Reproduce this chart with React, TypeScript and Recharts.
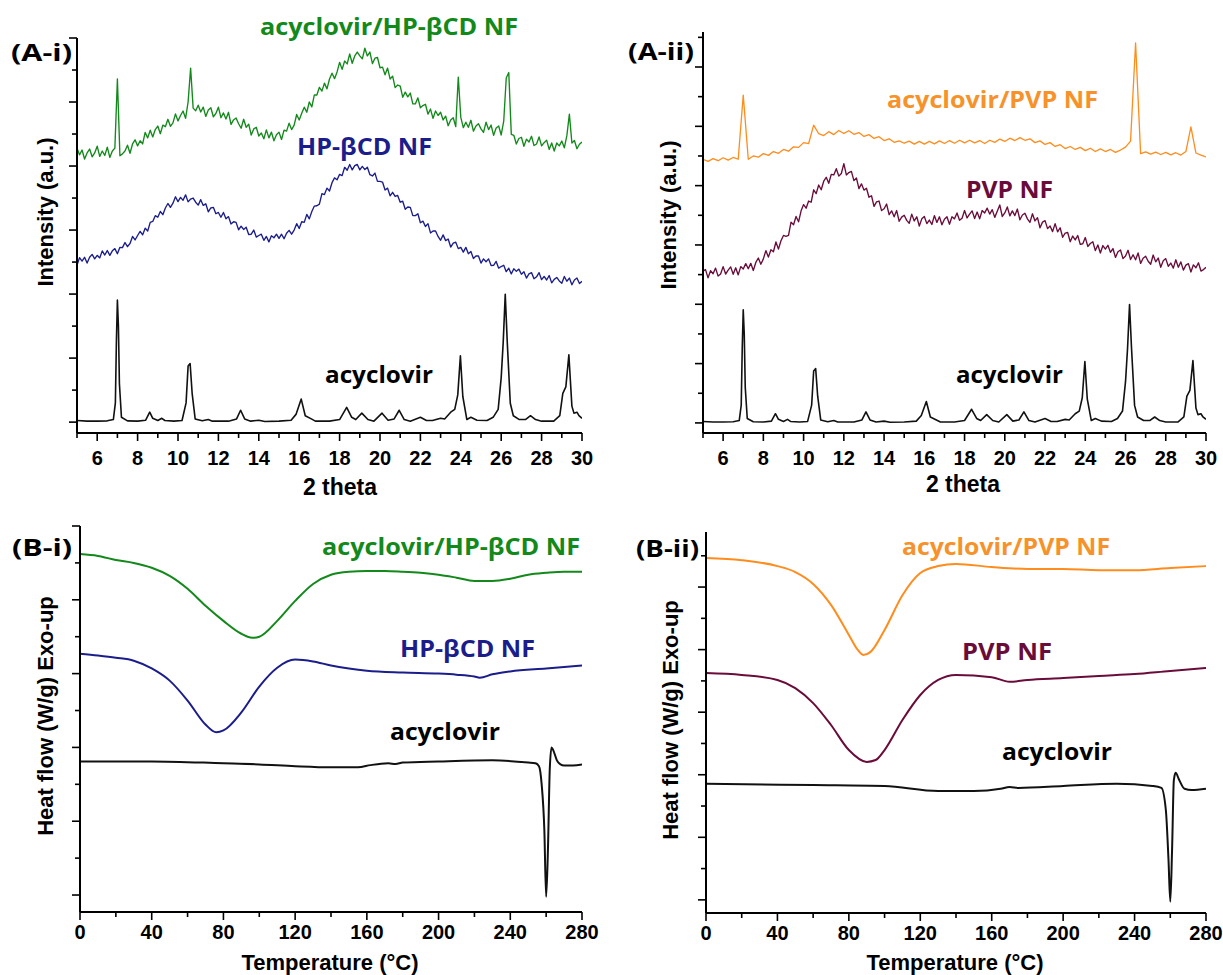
import React from 'react';
import { LineChart, Line, XAxis, YAxis } from 'recharts';

// ---------- XRD sampling grids (2 theta, degrees) ----------
const THETA_FINE: number[] = Array.from({ length: 201 }, (_, i) => 5 + i * 0.125);
const THETA_COARSE: number[] = Array.from({ length: 101 }, (_, i) => 5 + i * 0.25);

// ---------- (A-i) acyclovir/HP-βCD NF XRD, intensity (a.u.) on THETA_FINE ----------
const XRD_ACY_HPBCD_NF: number[] = [
  856, 835, 850, 822, 841, 853, 829, 841,
  862, 830, 847, 833, 859, 827, 847, 856,
  1072, 832, 838, 847, 865, 840, 869, 882,
  863, 879, 869, 905, 888, 912, 891, 914,
  925, 901, 928, 923, 946, 924, 935, 963,
  941, 958, 972, 949, 1000, 1106, 981, 973,
  990, 969, 984, 955, 975, 982, 954, 964,
  984, 951, 966, 947, 968, 930, 944, 950,
  932, 918, 946, 921, 931, 897, 916, 921,
  894, 903, 885, 913, 888, 906, 879, 898,
  906, 883, 912, 909, 934, 914, 928, 961,
  944, 965, 984, 968, 1000, 985, 1022, 1022,
  1046, 1034, 1059, 1041, 1072, 1090, 1073, 1094,
  1124, 1102, 1128, 1119, 1150, 1121, 1144, 1156,
  1144, 1135, 1168, 1144, 1156, 1120, 1137, 1139,
  1107, 1109, 1085, 1106, 1072, 1081, 1045, 1053,
  1050, 1015, 1031, 1016, 1028, 994, 994, 1013,
  982, 989, 993, 962, 978, 949, 972, 958,
  968, 944, 956, 926, 944, 951, 923, 1078,
  952, 920, 937, 921, 943, 909, 925, 932,
  916, 905, 937, 914, 928, 896, 919, 925,
  897, 940, 1075, 1092, 899, 896, 869, 886,
  890, 862, 884, 875, 893, 864, 869, 891,
  863, 873, 881, 852, 872, 847, 872, 863,
  878, 857, 895, 962, 872, 880, 854, 868,
  875,
];

// ---------- (A-i) HP-βCD NF XRD on THETA_FINE ----------
const XRD_HPBCD_NF: number[] = [
  490, 514, 503, 515, 497, 515, 524, 510,
  521, 513, 535, 522, 536, 521, 535, 542,
  526, 546, 545, 561, 548, 558, 580, 569,
  583, 596, 585, 606, 597, 624, 627, 645,
  640, 658, 648, 669, 683, 671, 684, 704,
  689, 702, 693, 710, 688, 697, 700, 687,
  678, 695, 677, 682, 657, 669, 671, 651,
  655, 640, 655, 635, 642, 619, 626, 624,
  601, 612, 602, 609, 586, 587, 600, 578,
  583, 587, 568, 580, 563, 582, 576, 587,
  574, 587, 573, 590, 599, 587, 600, 620,
  605, 626, 624, 649, 635, 658, 675, 676,
  681, 714, 711, 731, 722, 748, 763, 757,
  774, 770, 796, 787, 805, 788, 801, 805,
  788, 799, 789, 796, 773, 769, 778, 752,
  752, 750, 725, 731, 707, 718, 705, 708,
  687, 690, 665, 672, 671, 645, 645, 651,
  623, 628, 611, 620, 591, 597, 597, 580,
  568, 585, 567, 572, 547, 559, 562, 542,
  546, 531, 546, 526, 533, 511, 519, 519,
  497, 510, 501, 510, 489, 490, 502, 481,
  486, 490, 470, 481, 463, 479, 471, 478,
  462, 470, 450, 463, 467, 448, 454, 467,
  445, 455, 444, 458, 435, 446, 452, 441,
  434, 455, 440, 450, 429, 444, 450, 433,
  440,
];

// ---------- (A-ii) PVP NF XRD on THETA_FINE ----------
const XRD_PVP_NF: number[] = [
  512, 517, 489, 513, 503, 522, 495, 502,
  527, 502, 515, 526, 501, 523, 499, 527,
  519, 537, 520, 538, 514, 541, 556, 535,
  553, 581, 559, 584, 577, 610, 586, 614,
  632, 629, 632, 677, 668, 696, 678, 715,
  736, 724, 748, 744, 786, 773, 802, 786,
  815, 828, 808, 838, 836, 857, 832, 841,
  874, 836, 844, 848, 817, 826, 790, 806,
  785, 791, 761, 766, 730, 745, 748, 716,
  722, 738, 702, 715, 695, 716, 680, 694,
  700, 683, 673, 704, 681, 695, 664, 688,
  696, 672, 684, 669, 699, 676, 695, 668,
  687, 695, 670, 695, 688, 708, 683, 690,
  716, 691, 704, 715, 689, 711, 688, 716,
  708, 724, 704, 719, 693, 714, 735, 696,
  708, 728, 698, 715, 699, 721, 685, 701,
  707, 688, 676, 705, 681, 692, 658, 677,
  682, 655, 664, 645, 672, 644, 658, 626,
  640, 642, 611, 630, 617, 632, 602, 604,
  625, 595, 605, 611, 581, 600, 573, 598,
  586, 599, 575, 588, 558, 577, 583, 554,
  563, 582, 551, 567, 550, 573, 538, 555,
  562, 545, 535, 566, 543, 556, 525, 547,
  554, 528, 539, 522, 550, 525, 543, 515,
  532, 537, 509, 533, 523, 540, 512, 517,
  525,
];

// ---------- (A-ii) acyclovir/PVP NF XRD on THETA_COARSE ----------
const XRD_ACY_PVP_NF: number[] = [
  889, 882, 891, 884,
  894, 886, 895, 889,
  1105, 889, 900, 896,
  908, 902, 915, 909,
  922, 916, 931, 929,
  945, 942, 1004, 975,
  969, 982, 972, 986,
  976, 985, 973, 979,
  966, 972, 959, 965,
  952, 958, 946, 951,
  943, 950, 940, 949,
  940, 949, 941, 951,
  942, 952, 943, 953,
  944, 953, 944, 952,
  942, 953, 946, 957,
  949, 960, 952, 962,
  953, 958, 945, 951,
  939, 945, 932, 938,
  925, 932, 922, 929,
  918, 926, 915, 924,
  915, 922, 912, 920,
  930, 950, 1281, 908,
  914, 906, 913, 905,
  912, 904, 911, 903,
  915, 998, 910, 903,
  897,
];

// ---------- acyclovir (crystalline) XRD, shared by both A panels ----------
const ACY_THETA: number[] = [
  5.0, 5.5, 6.0, 6.5, 6.8, 6.9, 6.95, 7.0, 7.05, 7.1, 7.2, 7.5, 8.0, 8.4, 8.6, 8.75,
  9.0, 9.2, 9.35, 9.8, 10.2, 10.4, 10.5, 10.6, 10.7, 10.85, 11.2, 11.5, 11.7, 12.5,
  12.9, 13.1, 13.3, 13.6, 14.0, 14.3, 15.0, 15.6, 15.85, 16.1, 16.3, 16.6, 16.8, 17.5,
  18.0, 18.35, 18.6, 18.8, 19.1, 19.4, 19.7, 20.1, 20.4, 20.7, 20.95, 21.2, 21.5, 22.0,
  22.3, 22.6, 23.0, 23.2, 23.5, 23.7, 23.85, 23.98, 24.1, 24.3, 24.5, 24.8, 25.3, 25.6,
  25.85, 26.0, 26.1, 26.2, 26.3, 26.45, 26.6, 26.9, 27.2, 27.45, 27.7, 28.0, 28.6, 28.9,
  29.05, 29.2, 29.35, 29.5, 29.6, 29.75, 29.85, 30.0,
];
const ACY_XRD: number[] = [
  5, 3, 3, 4, 8, 60, 250, 381, 300, 120, 15, 4, 3, 6, 31, 12,
  5, 12, 5, 3, 5, 60, 175, 183, 90, 10, 4, 8, 3, 3,
  10, 37, 10, 3, 6, 2, 3, 6, 25, 72, 20, 10, 3, 3,
  8, 46, 15, 8, 28, 8, 3, 28, 6, 10, 37, 8, 3, 15,
  5, 5, 12, 10, 31, 40, 85, 207, 80, 8, 15, 6, 5, 15,
  40, 139, 250, 399, 250, 59, 20, 8, 8, 20, 8, 3, 3, 20,
  90, 110, 210, 50, 28, 31, 20, 12,
];

// ---------- DSC (B-i) ----------
const DSC_ACY_HPBCD_T: number[] = [0, 10, 20, 30, 40, 50, 60, 70, 80, 90, 96, 100, 110, 120, 130, 140, 150, 160, 170, 180, 190, 200, 210, 220, 230, 240, 250, 260, 270, 280];
const DSC_ACY_HPBCD: number[] = [924, 919, 908, 900, 887, 865, 830, 784, 743, 708, 697, 700, 743, 797, 843, 868, 876, 878, 878, 876, 873, 868, 860, 851, 851, 857, 868, 873, 876, 876];
const DSC_HPBCD_T: number[] = [0, 10, 20, 30, 40, 50, 60, 70, 76, 80, 90, 100, 110, 120, 130, 140, 150, 160, 180, 200, 210, 220, 223, 230, 240, 260, 280];
const DSC_HPBCD: number[] = [654, 649, 643, 635, 614, 581, 527, 462, 441, 446, 495, 565, 616, 638, 633, 622, 614, 608, 603, 600, 597, 592, 589, 598, 606, 614, 622];
const DSC_ACY_I_T: number[] = [0, 40, 80, 100, 120, 140, 155, 162, 168, 172, 176, 180, 200, 230, 250, 254, 256, 257.5, 259, 260, 261, 262, 263, 264, 266, 268, 270, 275, 280];
const DSC_ACY_I: number[] = [362, 362, 357, 354, 349, 346, 346, 352, 356, 357, 355, 359, 362, 365, 359, 357, 349, 300, 176, -5, 122, 338, 400, 392, 365, 354, 351, 351, 354];

// ---------- DSC (B-ii) ----------
const DSC_ACY_PVP_T: number[] = [0, 20, 40, 50, 60, 70, 80, 85, 88, 92, 100, 110, 120, 130, 140, 160, 180, 200, 220, 240, 260, 280];
const DSC_ACY_PVP: number[] = [1093, 1086, 1067, 1048, 1010, 943, 847, 799, 783, 792, 863, 974, 1045, 1067, 1074, 1064, 1058, 1058, 1054, 1054, 1061, 1067];
const DSC_PVP_T: number[] = [0, 20, 40, 50, 60, 70, 80, 90, 95, 100, 110, 120, 130, 140, 160, 170, 180, 200, 220, 240, 260, 280];
const DSC_PVP: number[] = [725, 719, 703, 677, 629, 559, 479, 441, 447, 479, 575, 655, 703, 719, 712, 697, 703, 709, 716, 722, 732, 741];
const DSC_ACY_II_T: number[] = [0, 60, 100, 130, 150, 165, 170, 175, 200, 230, 250, 255, 257.5, 259, 260, 261, 262, 263, 265, 268, 272, 280];
const DSC_ACY_II: number[] = [371, 367, 364, 348, 348, 355, 361, 358, 364, 371, 364, 358, 288, 128, -6, 160, 383, 406, 383, 355, 351, 355];

// ---------- ticks ----------
const XRD_X_TICKS: number[] = [5, 6, 7, 8, 9, 10, 11, 12, 13, 14, 15, 16, 17, 18, 19, 20, 21, 22, 23, 24, 25, 26, 27, 28, 29, 30];
const XRD_X_LABELS: number[] = [6, 8, 10, 12, 14, 16, 18, 20, 22, 24, 26, 28, 30];
const DSC_X_TICKS: number[] = [0, 20, 40, 60, 80, 100, 120, 140, 160, 180, 200, 220, 240, 260, 280];
const DSC_X_LABELS: number[] = [0, 40, 80, 120, 160, 200, 240, 280];
const Y_TICKS_AI: number[] = [0, 100, 200, 300, 400, 500, 600, 700, 800, 900, 1000, 1100, 1200];
const Y_TICKS_AII: number[] = [0, 100, 200, 300, 400, 500, 600, 700, 800, 900, 1000, 1100, 1200, 1300];
const Y_TICKS_BI: number[] = [0, 100, 200, 300, 400, 500, 600, 700, 800, 900, 1000];
const Y_TICKS_BII: number[] = [0, 100, 200, 300, 400, 500, 600, 700, 800, 900, 1000, 1100];

// ---------- styles ----------
const GREEN = '#12891a';
const NAVY = '#1b1d8a';
const ORANGE = '#ff8c1c';
const MAROON = '#6a0c3a';
const AXIS_FONT = '"Liberation Sans", Arial, sans-serif';
const LABEL_FONT = '"Open Sans", "Noto Sans", sans-serif';

type Pt = { x: number; y: number };
const zip = (xs: number[], ys: number[]): Pt[] => xs.map((x, i) => ({ x, y: ys[i] }));

interface Series { data: Pt[]; color: string; width: number; curve: 'linear' | 'monotone' }
interface PanelProps {
  left: number; right: number; top: number; bottom: number;
  xDomain: [number, number]; yDomain: [number, number];
  xTicks: number[]; xLabels: number[]; xMajorStep: number;
  yTicks: number[];
  labelOffset: number;
  series: Series[];
}

function Panel(p: PanelProps) {
  const padL = 16, padR = 34, padT = 6, padB = 46;
  const W = p.right - p.left + padL + padR;
  const H = p.bottom - p.top + padT + padB;
  const xTick = (t: any) => {
    const v = t.payload.value;
    const major = Math.abs(v / p.xMajorStep - Math.round(v / p.xMajorStep)) < 1e-6;
    const lab = p.xLabels.includes(v);
    return (
      <g>
        <line x1={t.x} x2={t.x} y1={t.y} y2={t.y + (major ? 8 : 5)} stroke="#000" strokeWidth={1.6} />
        {lab && (
          <text x={t.x} y={t.y + p.labelOffset + 7} textAnchor="middle" fontFamily={AXIS_FONT} fontWeight="bold" fontSize={20} fill="#000">
            {v}
          </text>
        )}
      </g>
    );
  };
  const yTick = (t: any) => {
    const v = t.payload.value;
    const major = Math.round(v / 100) % 2 === 0;
    return <line x1={t.x - (major ? 8 : 5)} x2={t.x} y1={t.y} y2={t.y} stroke="#000" strokeWidth={1.6} />;
  };
  return (
    <div style={{ position: 'absolute', left: p.left - padL, top: p.top - padT }}>
      <LineChart width={W} height={H} margin={{ top: padT, right: padR, left: 0, bottom: 0 }}>
        <XAxis
          type="number" dataKey="x" domain={p.xDomain} ticks={p.xTicks} interval={0} allowDataOverflow
          height={padB} tickSize={0} tickMargin={0} tickLine={false}
          axisLine={{ stroke: '#000', strokeWidth: 2 }} tick={xTick}
        />
        <YAxis
          type="number" domain={p.yDomain} ticks={p.yTicks} interval={0} allowDataOverflow
          width={padL} tickSize={0} tickMargin={0} tickLine={false}
          axisLine={{ stroke: '#000', strokeWidth: 2 }} tick={yTick}
        />
        {p.series.map((s, i) => (
          <Line
            key={i} data={s.data} dataKey="y" type={s.curve} stroke={s.color} strokeWidth={s.width}
            dot={false} activeDot={false} isAnimationActive={false} strokeLinejoin="round"
          />
        ))}
      </LineChart>
    </div>
  );
}

const Lbl = ({ x, y, w, color, size = 23, children }: any) => (
  <text x={x} y={y} textLength={w} lengthAdjust="spacingAndGlyphs" fontFamily={LABEL_FONT} fontWeight="bold" fontSize={size} fill={color}>
    {children}
  </text>
);
const Title = ({ x, y, rotate, children, size = 22 }: any) => (
  <text
    x={x} y={y} textAnchor="middle" dominantBaseline="central" fontFamily={AXIS_FONT} fontWeight="bold" fontSize={size} fill="#000"
    transform={rotate ? `rotate(-90 ${x} ${y})` : undefined}
  >
    {children}
  </text>
);

export default function App() {
  const acyXrd = zip(ACY_THETA, ACY_XRD);
  return (
    <div style={{ position: 'absolute', left: 0, top: 0, width: 1223, height: 975, background: '#fff', overflow: 'hidden' }}>
      <Panel
        left={77} right={582} top={38} bottom={433}
        xDomain={[5, 30]} yDomain={[-34, 1200]} xTicks={XRD_X_TICKS} xLabels={XRD_X_LABELS} xMajorStep={2}
        yTicks={Y_TICKS_AI} labelOffset={25}
        series={[
          { data: zip(THETA_FINE, XRD_ACY_HPBCD_NF), color: GREEN, width: 1.35, curve: 'linear' },
          { data: zip(THETA_FINE, XRD_HPBCD_NF), color: NAVY, width: 1.35, curve: 'linear' },
          { data: acyXrd, color: '#111', width: 1.6, curve: 'linear' },
        ]}
      />
      <Panel
        left={703} right={1206} top={32} bottom={433}
        xDomain={[5, 30]} yDomain={[-34, 1318]} xTicks={XRD_X_TICKS} xLabels={XRD_X_LABELS} xMajorStep={2}
        yTicks={Y_TICKS_AII} labelOffset={25}
        series={[
          { data: zip(THETA_COARSE, XRD_ACY_PVP_NF), color: ORANGE, width: 1.3, curve: 'linear' },
          { data: zip(THETA_FINE, XRD_PVP_NF), color: MAROON, width: 1.35, curve: 'linear' },
          { data: acyXrd, color: '#111', width: 1.6, curve: 'linear' },
        ]}
      />
      <Panel
        left={80} right={582} top={526} bottom={912}
        xDomain={[0, 280]} yDomain={[-46, 1000]} xTicks={DSC_X_TICKS} xLabels={DSC_X_LABELS} xMajorStep={40}
        yTicks={Y_TICKS_BI} labelOffset={20}
        series={[
          { data: zip(DSC_ACY_HPBCD_T, DSC_ACY_HPBCD), color: GREEN, width: 2, curve: 'monotone' },
          { data: zip(DSC_HPBCD_T, DSC_HPBCD), color: NAVY, width: 2, curve: 'monotone' },
          { data: zip(DSC_ACY_I_T, DSC_ACY_I), color: '#111', width: 2, curve: 'monotone' },
        ]}
      />
      <Panel
        left={706} right={1206} top={532} bottom={913}
        xDomain={[0, 280]} yDomain={[-42, 1176]} xTicks={DSC_X_TICKS} xLabels={DSC_X_LABELS} xMajorStep={40}
        yTicks={Y_TICKS_BII} labelOffset={20}
        series={[
          { data: zip(DSC_ACY_PVP_T, DSC_ACY_PVP), color: ORANGE, width: 2, curve: 'monotone' },
          { data: zip(DSC_PVP_T, DSC_PVP), color: MAROON, width: 2, curve: 'monotone' },
          { data: zip(DSC_ACY_II_T, DSC_ACY_II), color: '#111', width: 2, curve: 'monotone' },
        ]}
      />
      <svg width={1223} height={975} style={{ position: 'absolute', left: 0, top: 0, pointerEvents: 'none' }}>
        <Lbl x={11} y={61} w={61} color="#000" size={24}>(A-i)</Lbl>
        <Lbl x={628} y={60} w={66} color="#000" size={24}>(A-ii)</Lbl>
        <Lbl x={12} y={556} w={60} color="#000" size={24}>(B-i)</Lbl>
        <Lbl x={636} y={557} w={63} color="#000" size={24}>(B-ii)</Lbl>

        <Lbl x={260} y={35} w={258} color={GREEN}>acyclovir/HP-βCD NF</Lbl>
        <Lbl x={297} y={155} w={135} color={NAVY}>HP-βCD NF</Lbl>
        <Lbl x={325} y={383} w={108} color="#000">acyclovir</Lbl>

        <Lbl x={887} y={108} w={211} color="#f7922a">acyclovir/PVP NF</Lbl>
        <Lbl x={966} y={198} w={87} color={MAROON}>PVP NF</Lbl>
        <Lbl x={956} y={383} w={107} color="#000">acyclovir</Lbl>

        <Lbl x={322} y={555} w={258} color={GREEN}>acyclovir/HP-βCD NF</Lbl>
        <Lbl x={400} y={657} w={135} color={NAVY}>HP-βCD NF</Lbl>
        <Lbl x={390} y={740} w={110} color="#000">acyclovir</Lbl>

        <Lbl x={902} y={555} w={208} color="#f7922a">acyclovir/PVP NF</Lbl>
        <Lbl x={962} y={660} w={90} color={MAROON}>PVP NF</Lbl>
        <Lbl x={1002} y={760} w={110} color="#000">acyclovir</Lbl>

        <Title x={45} y={212} rotate>Intensity (a.u.)</Title>
        <Title x={668} y={215} rotate>Intensity (a.u.)</Title>
        <Title x={340} y={487} size={23}>2 theta</Title>
        <Title x={963} y={484} size={23}>2 theta</Title>
        <Title x={45} y={716} rotate>Heat flow (W/g) Exo-up</Title>
        <Title x={670} y={720} rotate>Heat flow (W/g) Exo-up</Title>
        <Title x={330} y={962}>Temperature (°C)</Title>
        <Title x={955} y={962}>Temperature (°C)</Title>
      </svg>
    </div>
  );
}
